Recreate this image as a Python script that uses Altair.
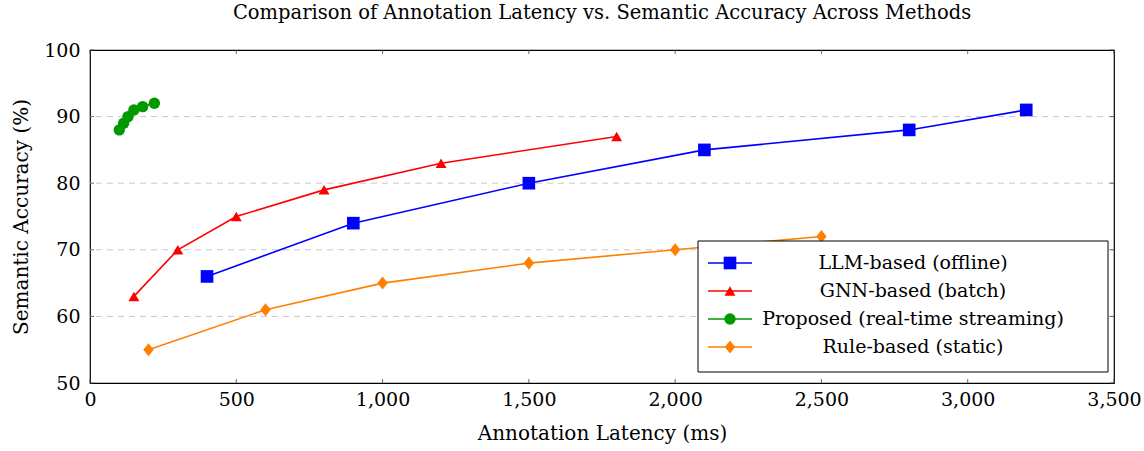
import altair as alt
import pandas as pd

series_names = ["LLM-based (offline)", "GNN-based (batch)",
                "Proposed (real-time streaming)", "Rule-based (static)"]
series_colors = ["#0000ff", "#ff0000", "#009900", "#ff8000"]
series_shapes = ["square", "triangle-up", "circle", "M0,-1L0.8,0L0,1L-0.8,0Z"]
series_sizes = [160, 120, 130, 170]

llm_x = [400, 900, 1500, 2100, 2800, 3200]
llm_y = [66, 74, 80, 85, 88, 91]
gnn_x = [150, 300, 500, 800, 1200, 1800]
gnn_y = [63, 70, 75, 79, 83, 87]
prop_x = [100, 115, 130, 150, 180, 220]
prop_y = [88, 89, 90, 91, 91.5, 92]
rule_x = [200, 600, 1000, 1500, 2000, 2500]
rule_y = [55, 61, 65, 68, 70, 72]

x_ticks = [0, 500, 1000, 1500, 2000, 2500, 3000, 3500]
y_ticks = [50, 60, 70, 80, 90, 100]
grid_y = [60, 70, 80, 90]

FONT = "DejaVu Serif"
W, H = 1024, 333

xs = [llm_x, gnn_x, prop_x, rule_x]
ys = [llm_y, gnn_y, prop_y, rule_y]

xscale = alt.Scale(domain=[0, 3500], nice=False, zero=False)
yscale = alt.Scale(domain=[50, 100], nice=False, zero=False)

grid = alt.Chart(pd.DataFrame({"g": grid_y})).mark_rule(
    color="#c8c8c8", strokeDash=[6, 5], strokeWidth=1
).encode(y=alt.Y("g:Q", scale=yscale))

# inward ticks
xt = pd.DataFrame({"t": x_ticks})
yt = pd.DataFrame({"t": y_ticks})
tick_layers = [
    alt.Chart(xt).mark_rule(color="#444", strokeWidth=0.8).encode(
        x=alt.X("t:Q", scale=xscale), y=alt.value(H), y2=alt.value(H - 4)),
    alt.Chart(xt).mark_rule(color="#444", strokeWidth=0.8).encode(
        x=alt.X("t:Q", scale=xscale), y=alt.value(0), y2=alt.value(4)),
    alt.Chart(yt).mark_rule(color="#444", strokeWidth=0.8).encode(
        y=alt.Y("t:Q", scale=yscale), x=alt.value(0), x2=alt.value(4)),
    alt.Chart(yt).mark_rule(color="#444", strokeWidth=0.8).encode(
        y=alt.Y("t:Q", scale=yscale), x=alt.value(W), x2=alt.value(W - 4)),
]

layers = [grid] + tick_layers
for i, name in enumerate(series_names):
    df = pd.DataFrame({"x": xs[i], "y": ys[i]})
    base = alt.Chart(df)
    if i == 0:
        xenc = alt.X("x:Q", scale=xscale,
                     axis=alt.Axis(values=x_ticks, format=",.0f", grid=False, ticks=False,
                                   title="Annotation Latency (ms)", labelPadding=7,
                                   labelFlush=False, titlePadding=14))
        yenc = alt.Y("y:Q", scale=yscale,
                     axis=alt.Axis(values=y_ticks, format="d", grid=False, ticks=False,
                                   title="Semantic Accuracy (%)", labelPadding=10,
                                   labelFlush=False, titlePadding=12))
    else:
        xenc = alt.X("x:Q", scale=xscale)
        yenc = alt.Y("y:Q", scale=yscale)
    line = base.mark_line(color=series_colors[i], strokeWidth=1.6).encode(x=xenc, y=yenc)
    pts = base.mark_point(shape=series_shapes[i], filled=True, opacity=1,
                          color=series_colors[i], size=series_sizes[i]).encode(
        x=alt.X("x:Q", scale=xscale), y=alt.Y("y:Q", scale=yscale))
    layers += [line, pts]

# manual legend (pixel positions relative to plot area)
lx0, ly0, lx1, ly1 = 608, 191, 1018, 322
box = alt.Chart(pd.DataFrame({"a": [0]})).mark_rect(
    fill="white", stroke="black", strokeWidth=1
).encode(x=alt.value(lx0), x2=alt.value(lx1), y=alt.value(ly0), y2=alt.value(ly1))
layers.append(box)
row_y = [213, 241, 269, 297]
for i, name in enumerate(series_names):
    d = pd.DataFrame({"n": [name]})
    layers.append(alt.Chart(d).mark_rule(color=series_colors[i], strokeWidth=1.6).encode(
        x=alt.value(618), x2=alt.value(662), y=alt.value(row_y[i])))
    layers.append(alt.Chart(d).mark_point(shape=series_shapes[i], filled=True, opacity=1,
                                          color=series_colors[i], size=series_sizes[i]).encode(
        x=alt.value(640), y=alt.value(row_y[i])))
    layers.append(alt.Chart(d).mark_text(font=FONT, fontSize=19, align="center",
                                         baseline="middle", color="black").encode(
        x=alt.value(823), y=alt.value(row_y[i]), text="n:N"))

chart = alt.layer(*layers).properties(
    width=W, height=H,
    title=alt.TitleParams("Comparison of Annotation Latency vs. Semantic Accuracy Across Methods",
                          font=FONT, fontSize=19.5, fontWeight="normal", offset=18,
                          anchor="middle", color="black"),
    autosize=alt.AutoSizeParams(type="none"),
    padding={"left": 90, "top": 50, "right": 30, "bottom": 68},
).configure_view(stroke="black", strokeWidth=1.2).configure_axis(
    labelFont=FONT, titleFont=FONT, labelFontSize=19, titleFontSize=20,
    labelColor="black", titleColor="black", titleFontWeight="normal",
    domain=False,
)

chart.save("out.html", embed_options={"renderer": "svg", "actions": False})
